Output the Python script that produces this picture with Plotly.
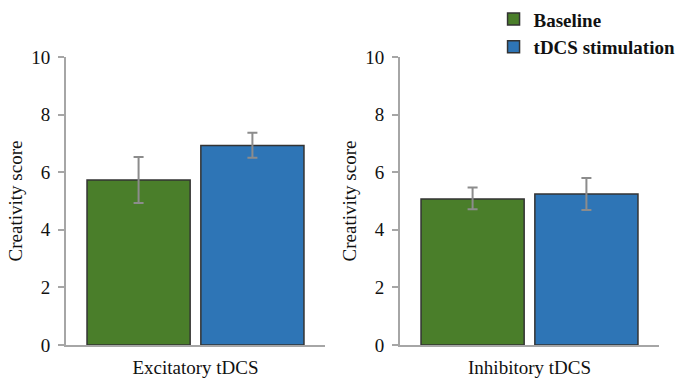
import plotly.graph_objects as go
from plotly.subplots import make_subplots

conditions = ["Excitatory tDCS", "Inhibitory tDCS"]
series_names = ["Baseline", "tDCS stimulation"]
baseline_means = [5.73, 5.07]
baseline_err_plus = [0.80, 0.40]
baseline_err_minus = [0.80, 0.36]
tdcs_means = [6.93, 5.24]
tdcs_err_plus = [0.44, 0.56]
tdcs_err_minus = [0.43, 0.55]
y_ticks = [0, 2, 4, 6, 8, 10]

colors = ["#4a7e2a", "#2e75b6"]
FONT = "Liberation Serif, Times New Roman, serif"
AX = "#a6a6a6"

fig = make_subplots(rows=1, cols=2, horizontal_spacing=0.1265)

data = [
    (baseline_means, baseline_err_plus, baseline_err_minus),
    (tdcs_means, tdcs_err_plus, tdcs_err_minus),
]
for col, cond in enumerate(conditions, start=1):
    for si, (means, ep, em) in enumerate(data):
        fig.add_trace(
            go.Bar(
                x=[cond],
                y=[means[col - 1]],
                name=series_names[si],
                marker=dict(color=colors[si], line=dict(color="#333333", width=1.5)),
                error_y=dict(
                    type="data",
                    symmetric=False,
                    array=[ep[col - 1]],
                    arrayminus=[em[col - 1]],
                    color="#8c8c8c",
                    thickness=2,
                    width=5,
                ),
                showlegend=(col == 1),
            ),
            row=1,
            col=col,
        )

fig.update_layout(
    width=684,
    height=378,
    margin=dict(l=66, r=25, t=57, b=33, autoexpand=False),
    paper_bgcolor="white",
    plot_bgcolor="white",
    barmode="group",
    bargap=0.121,
    bargroupgap=0.094,
    font=dict(family=FONT, size=19, color="#111111"),
    legend=dict(
        x=0.721,
        y=1.197,
        xanchor="left",
        yanchor="top",
        font=dict(family=FONT, size=19, color="#111111", weight="bold"),
        bgcolor="rgba(0,0,0,0)",
        itemwidth=30,
        tracegroupgap=0,
    ),
)

for c in (1, 2):
    fig.update_yaxes(
        range=[0, 10],
        tickvals=y_ticks,
        showgrid=False,
        zeroline=False,
        showline=True,
        linecolor=AX,
        linewidth=2,
        ticks="outside",
        ticklen=6,
        tickwidth=2,
        tickcolor=AX,
        ticklabelstandoff=4,
        title=dict(text="Creativity score", font=dict(size=19), standoff=4),
        automargin=False,
        row=1,
        col=c,
    )
    fig.update_xaxes(
        showgrid=False,
        zeroline=False,
        showline=True,
        linecolor=AX,
        linewidth=2,
        ticks="",
        ticklabelstandoff=4,
        automargin=False,
        row=1,
        col=c,
    )

fig.write_html("out.html")
